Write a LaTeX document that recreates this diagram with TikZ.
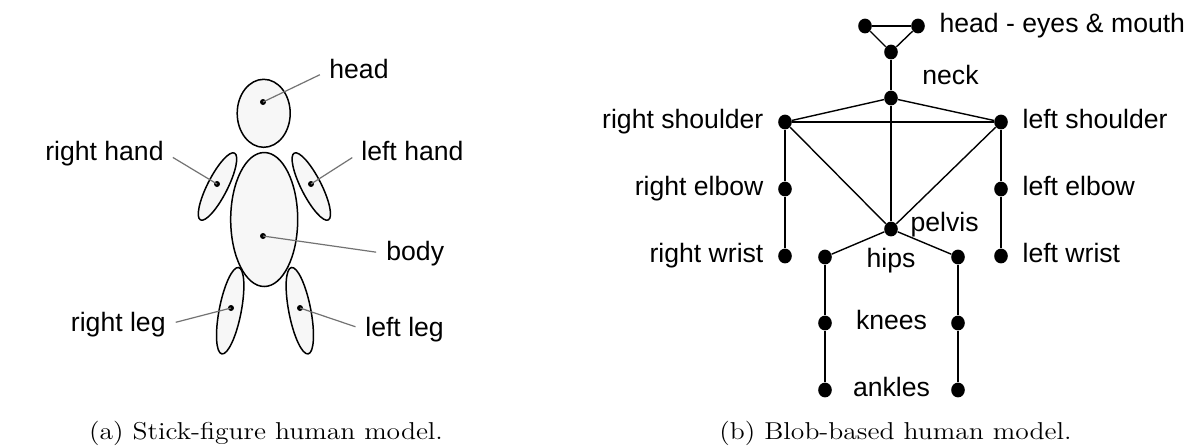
\documentclass[tikz,border=0pt]{standalone}
\usepackage{fontspec}
\newfontfamily\lblfont{Liberation Sans}
\usetikzlibrary{positioning,calc,shapes.geometric}

\tikzset{
  blob/.style={ellipse,draw=black,line width=0.75pt,fill=black!3,inner sep=0pt},
  spot/.style={circle,fill=black,inner sep=0pt,minimum size=3pt},
  joint/.style={ellipse,fill=black,inner sep=0pt,minimum width=6.8pt,minimum height=7.4pt},
  lbl/.style={font=\lblfont\fontsize{13.3}{15}\selectfont,inner sep=1pt,text height=9.7pt,text depth=3pt},
  leader/.style={draw=black!55,line width=0.6pt,shorten <=4pt},
  bone/.style={line width=1.2pt},
  tendon/.style={line width=0.7pt},
  capt/.style={font=\fontsize{12.2pt}{14pt}\selectfont,xscale=1.13,inner sep=0pt}
}

\begin{document}
\begin{tikzpicture}[x=0.5pt,y=-0.5pt]
  \useasboundingbox (0,0) rectangle (1196,446);
  \fill[white] (0,0) rectangle (1196,446);
  % (a) Stick-figure model: body parts drawn as ellipses
  \node[blob,minimum width=26.5pt,minimum height=34pt] (head) at (263.7,113.3) {};
  \node[blob,minimum width=33.5pt,minimum height=67pt] (body) at (264.2,219.5) {};
  \node[blob,minimum width=37.5pt,minimum height=10pt,rotate=63] (rhand) at (217.5,186.5) {};
  \node[blob,minimum width=37.5pt,minimum height=10pt,rotate=117] (lhand) at (311.3,186.5) {};
  \node[blob,minimum width=44pt,minimum height=11pt,rotate=79] (rleg) at (230.2,310.7) {};
  \node[blob,minimum width=44pt,minimum height=11pt,rotate=101] (lleg) at (299.8,310.7) {};
  % Centre points of the parts
  \foreach \n/\x/\y in {headpt/263/102,bodypt/263/236,rhandpt/217/184,lhandpt/311/184,rlegpt/231/308,llegpt/300/308}
    \node[spot] (\n) at (\x,\y) {};
  % Part labels
  \node[lbl,anchor=base west] (headlbl) at (327,78) {head};
  \node[lbl,anchor=base east] (rhandlbl) at (166,160) {right hand};
  \node[lbl,anchor=base west] (lhandlbl) at (359,160) {left hand};
  \node[lbl,anchor=base west] (bodylbl) at (384,260) {body};
  \node[lbl,anchor=base east] (rleglbl) at (168,331) {right leg};
  \node[lbl,anchor=base west] (lleglbl) at (363,336) {left leg};
  \foreach \l/\p/\s in {headlbl/headpt/west,rhandlbl/rhandpt/east,lhandlbl/lhandpt/west,
      bodylbl/bodypt/west,rleglbl/rlegpt/east,lleglbl/llegpt/west}
    \draw[leader] (\l.\s) -- (\p.center);

  % (b) Blob-based model: joints
  \foreach \n/\x/\y in {reye/865/26,leye/918/26,mouth/891/52,neck/891/98,
      rsh/785/122,lsh/1001/122,relb/785/189,lelb/1001/189,pelvis/891/229,
      rwr/785/256,lwr/1001/256,rhip/825/257,lhip/958/257,
      rkn/825/323,lkn/958/323,rank/825/390,lank/958/390}
    \node[joint] (\n) at (\x,\y) {};
  % Links
  \foreach \a/\b in {reye/leye,mouth/neck,neck/pelvis,rsh/lsh,rsh/relb,relb/rwr,
      lsh/lelb,lelb/lwr,rhip/rkn,rkn/rank,lhip/lkn,lkn/lank}
    \draw[bone] (\a) -- (\b);
  \foreach \a/\b in {reye/mouth,leye/mouth,neck/rsh,neck/lsh,rsh/pelvis,lsh/pelvis,
      pelvis/rhip,pelvis/lhip}
    \draw[tendon] (\a) -- (\b);
  % Joint labels
  \node[lbl,right=6pt of leye] {head - eyes \& mouth};
  \node[lbl,anchor=west] at (920,78) {neck};
  \node[lbl,left=6pt of rsh] {right shoulder};
  \node[lbl,right=6pt of lsh] {left shoulder};
  \node[lbl,left=6pt of relb] {right elbow};
  \node[lbl,right=6pt of lelb] {left elbow};
  \node[lbl,right=5pt of pelvis,yshift=2pt] {pelvis};
  \node[lbl,left=6pt of rwr] {right wrist};
  \node[lbl,right=6pt of lwr] {left wrist};
  \node[lbl,below=4.5pt of pelvis] {hips};
  \node[lbl] at ($(rkn)!0.5!(lkn)$) {knees};
  \node[lbl] at ($(rank)!0.5!(lank)$) {ankles};

  % Captions
  \node[capt,anchor=base] at (266,439) {(a) Stick-figure human model.};
  \node[capt,anchor=base] at (895.5,439) {(b) Blob-based human model.};
\end{tikzpicture}
\end{document}
